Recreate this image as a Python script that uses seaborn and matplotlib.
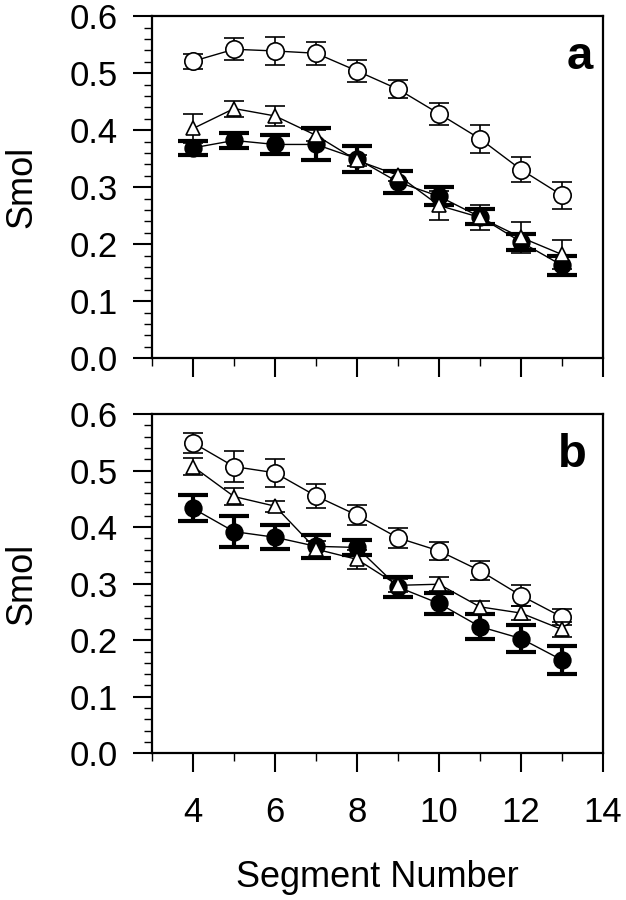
import numpy as np
import pandas as pd
import matplotlib
matplotlib.use("Agg")
import matplotlib.pyplot as plt
import seaborn as sns
from matplotlib.ticker import MultipleLocator, FormatStrFormatter

segments = [4, 5, 6, 7, 8, 9, 10, 11, 12, 13]

# panel a
a_open = [0.521, 0.542, 0.539, 0.535, 0.504, 0.472, 0.429, 0.385, 0.331, 0.286]
a_open_err = [0.013, 0.019, 0.024, 0.020, 0.020, 0.016, 0.019, 0.025, 0.022, 0.024]
a_tri = [0.403, 0.438, 0.425, 0.391, 0.347, 0.321, 0.268, 0.247, 0.212, 0.182]
a_tri_err = [0.025, 0.014, 0.018, 0.010, 0.010, 0.010, 0.025, 0.022, 0.027, 0.025]
a_fill = [0.369, 0.382, 0.375, 0.375, 0.350, 0.309, 0.284, 0.248, 0.204, 0.163]
a_fill_err = [0.012, 0.013, 0.016, 0.028, 0.023, 0.020, 0.016, 0.013, 0.014, 0.017]

# panel b
b_open = [0.549, 0.507, 0.496, 0.455, 0.421, 0.381, 0.358, 0.323, 0.279, 0.241]
b_open_err = [0.018, 0.027, 0.025, 0.022, 0.018, 0.018, 0.016, 0.017, 0.018, 0.014]
b_tri = [0.507, 0.454, 0.437, 0.361, 0.343, 0.297, 0.299, 0.259, 0.248, 0.219]
b_tri_err = [0.015, 0.015, 0.010, 0.014, 0.017, 0.012, 0.012, 0.011, 0.013, 0.014]
b_fill = [0.433, 0.392, 0.382, 0.366, 0.364, 0.294, 0.265, 0.224, 0.203, 0.165]
b_fill_err = [0.023, 0.027, 0.021, 0.020, 0.013, 0.018, 0.019, 0.022, 0.024, 0.025]

sns.set_theme(style="ticks")
plt.rcParams["font.family"] = ["Liberation Sans", "DejaVu Sans"]
plt.rcParams.update({"text.color": "black", "axes.labelcolor": "black",
                     "xtick.color": "black", "ytick.color": "black",
                     "axes.edgecolor": "black"})

fig = plt.figure(figsize=(6.26, 9), dpi=100)
ax_a = fig.add_axes([0.243, 0.602, 0.720, 0.380])
ax_b = fig.add_axes([0.243, 0.163, 0.720, 0.377])


def draw_series(ax, vals, errs, kind):
    df = pd.DataFrame({"seg": segments, "val": vals})
    if kind == "fill":
        elw, cs = 3.0, 11
        mk = dict(marker="o", markersize=12, markerfacecolor="black")
    elif kind == "open":
        elw, cs = 1.2, 7
        mk = dict(marker="o", markersize=12.5, markerfacecolor="white")
    else:
        elw, cs = 1.2, 7
        mk = dict(marker="^", markersize=10, markerfacecolor="white")
    ax.errorbar(segments, vals, yerr=errs, fmt="none", ecolor="black",
                elinewidth=elw, capsize=cs, capthick=elw)
    sns.lineplot(data=df, x="seg", y="val", ax=ax, color="black", lw=1.0,
                 markeredgecolor="black", markeredgewidth=1.2, **mk)


for ax, op, ope, fi, fie, tr, tre, letter, lx in [
        (ax_a, a_open, a_open_err, a_fill, a_fill_err, a_tri, a_tri_err, "a", 0.949),
        (ax_b, b_open, b_open_err, b_fill, b_fill_err, b_tri, b_tri_err, "b", 0.933)]:
    draw_series(ax, op, ope, "open")
    draw_series(ax, fi, fie, "fill")
    draw_series(ax, tr, tre, "tri")
    ax.set_xlim(3, 14)
    ax.set_ylim(0, 0.6)
    ax.xaxis.set_major_locator(MultipleLocator(2))
    ax.xaxis.set_minor_locator(MultipleLocator(1))
    ax.yaxis.set_major_locator(MultipleLocator(0.1))
    ax.yaxis.set_minor_locator(MultipleLocator(0.02))
    ax.yaxis.set_major_formatter(FormatStrFormatter("%.1f"))
    ax.tick_params(which="major", direction="out", length=14, width=1.5,
                   labelsize=25)
    ax.tick_params(axis="y", which="major", pad=11)
    ax.tick_params(axis="x", which="major", pad=17)
    ax.tick_params(which="minor", direction="out", length=6, width=1.0)
    for sp in ax.spines.values():
        sp.set_linewidth(1.6)
    ax.set_ylabel("Smol", fontsize=26)
    ax.yaxis.set_label_coords(-0.25, 0.5)
    ax.text(lx, 0.88, letter, transform=ax.transAxes, fontsize=34,
            fontweight="bold", ha="center", va="center")

ax_a.set_xlabel("")
ax_a.tick_params(axis="x", labelbottom=False)
ax_b.set_xlabel("Segment Number", fontsize=26, labelpad=22)

fig.savefig("out.png", dpi=100)
